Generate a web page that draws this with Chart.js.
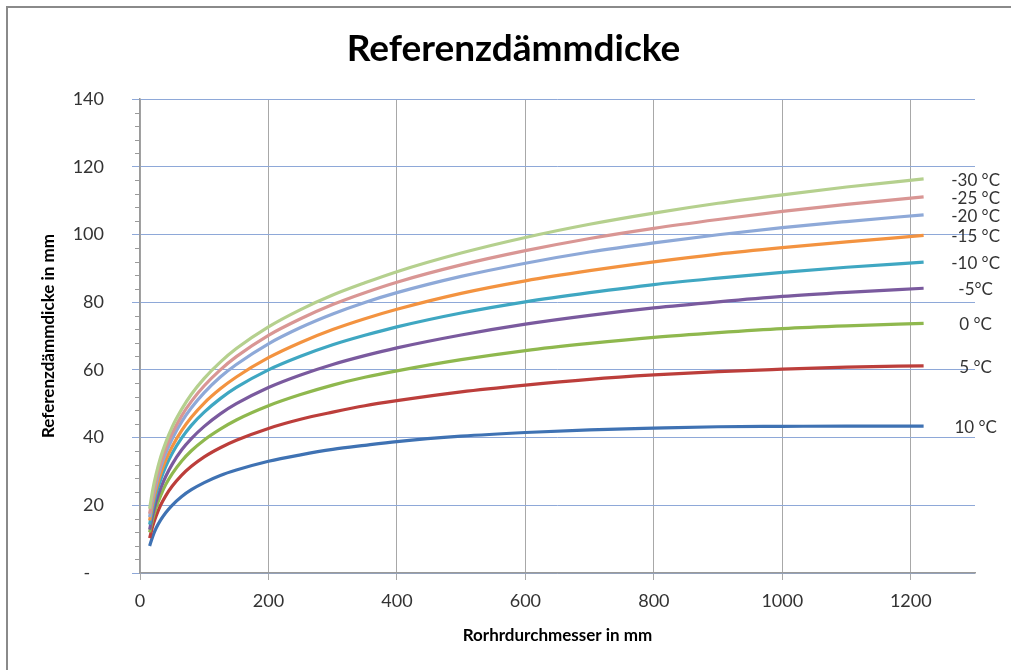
<!DOCTYPE html>
<html>
<head>
<meta charset="utf-8">
<script src="https://cdn.jsdelivr.net/npm/chart.js@4/dist/chart.umd.min.js"></script>
<style>
  html, body { margin: 0; padding: 0; background: #fff; }
  #wrap { position: relative; width: 1011px; height: 670px; overflow: hidden; }
  #frame { position: absolute; left: 6px; top: 6px; width: 1100px; height: 800px;
           border-left: 2px solid #8a8a8a; border-top: 2px solid #8a8a8a; pointer-events: none; }
  canvas { position: absolute; left: 0; top: 0; }
</style>
</head>
<body>
<div id="wrap">
  <canvas id="c" width="1011" height="670"></canvas>
  <div id="frame"></div>
</div>
<script>
// Pipe diameters (mm)
const diameters = [15, 20, 25, 32, 40, 50, 65, 80, 100, 125, 150, 200, 250, 300, 350, 400, 500, 600, 700, 800, 900, 1000, 1100, 1220];

// Reference insulation thickness (mm) per ambient temperature
const t10  = [ 8.0, 10.9, 13.2, 15.6, 17.8, 20.0, 22.6, 24.6, 26.7, 28.8, 30.4, 33.0, 34.9, 36.5, 37.7, 38.8, 40.4, 41.5, 42.3, 42.8, 43.2, 43.3, 43.4, 43.4];
const t5   = [10.3, 14.0, 16.8, 20.0, 22.8, 25.6, 28.9, 31.5, 34.3, 37.0, 39.2, 42.7, 45.4, 47.5, 49.4, 50.9, 53.5, 55.5, 57.2, 58.5, 59.5, 60.2, 60.8, 61.2];
const t0   = [12.0, 16.1, 19.3, 22.8, 26.1, 29.3, 33.1, 36.1, 39.3, 42.5, 45.2, 49.4, 52.7, 55.5, 57.8, 59.7, 63.0, 65.7, 67.8, 69.6, 71.0, 72.2, 73.0, 73.7];
const tm5  = [12.8, 17.4, 21.0, 24.9, 28.5, 32.1, 36.4, 39.7, 43.3, 47.0, 50.0, 54.8, 58.5, 61.6, 64.2, 66.5, 70.3, 73.5, 76.1, 78.3, 80.1, 81.7, 82.9, 84.1];
const tm10 = [14.3, 19.3, 23.2, 27.5, 31.4, 35.3, 39.9, 43.6, 47.5, 51.5, 54.8, 60.0, 64.0, 67.4, 70.2, 72.7, 76.8, 80.1, 82.8, 85.2, 87.1, 88.8, 90.3, 91.8];
const tm15 = [15.5, 20.7, 24.7, 29.2, 33.3, 37.3, 42.1, 46.0, 50.2, 54.4, 57.9, 63.6, 68.1, 71.9, 75.1, 77.9, 82.6, 86.3, 89.3, 91.9, 94.2, 96.1, 97.8, 99.7];
const tm20 = [16.5, 22.0, 26.2, 31.0, 35.3, 39.6, 44.7, 48.8, 53.3, 57.9, 61.6, 67.7, 72.5, 76.5, 79.9, 82.8, 87.6, 91.5, 94.8, 97.5, 99.9, 102.0, 103.8, 105.8];
const tm25 = [17.5, 23.1, 27.5, 32.3, 36.8, 41.2, 46.5, 50.7, 55.3, 60.0, 63.9, 70.2, 75.1, 79.3, 82.8, 85.9, 91.0, 95.2, 98.8, 101.8, 104.4, 106.8, 108.9, 111.1];
const tm30 = [19.0, 24.7, 29.1, 34.1, 38.5, 43.1, 48.4, 52.8, 57.5, 62.3, 66.3, 72.7, 77.8, 82.1, 85.7, 89.0, 94.5, 99.1, 103.0, 106.3, 109.2, 111.7, 114.0, 116.4];

const seriesValues = [tm30, tm25, tm20, tm15, tm10, tm5, t0, t5, t10];
const seriesLabels = ['-30 °C', '-25 °C', '-20 °C', '-15 °C', '-10 °C', '-5°C', '0 °C', '5 °C', '10 °C'];
const seriesColors = ['#B5D08E', '#D99694', '#8EA9D8', '#F39340', '#3FA7C2', '#7A5A9E', '#8FB84E', '#BC3E3B', '#3F72B3'];

const chartTitle = 'Referenzdämmdicke';
const FONT = 'Lato, "Open Sans", sans-serif';

const datasets = seriesValues.map((vals, i) => ({
  label: seriesLabels[i],
  data: diameters.map((d, k) => ({ x: d, y: vals[k] })),
  borderColor: seriesColors[i],
  backgroundColor: seriesColors[i],
  borderWidth: 3.2,
  pointRadius: 0,
  cubicInterpolationMode: 'monotone',
  fill: false
}));

// Temperature label to the right of each curve end
const endLabels = {
  id: 'endLabels',
  afterDatasetsDraw(chart) {
    const ctx = chart.ctx;
    ctx.save();
    ctx.font = '17px ' + FONT;
    ctx.fillStyle = '#333';
    ctx.textAlign = 'center';
    ctx.textBaseline = 'middle';
    chart.data.datasets.forEach((ds, i) => {
      const meta = chart.getDatasetMeta(i);
      const pt = meta.data[meta.data.length - 1];
      ctx.fillText(ds.label, pt.x + 52, pt.y + 1.5);
    });
    ctx.restore();
  }
};

// Chart heading, centred on the page width
const heading = {
  id: 'heading',
  afterDraw(chart) {
    const ctx = chart.ctx;
    ctx.save();
    ctx.font = 'bold 37px ' + FONT;
    ctx.fillStyle = '#000';
    ctx.textAlign = 'center';
    ctx.textBaseline = 'middle';
    ctx.fillText(chartTitle, chart.width / 2 + 8, 49);
    ctx.restore();
  }
};

// Minor tick marks on the value axis
const minorTicks = {
  id: 'minorTicks',
  afterDraw(chart) {
    const y = chart.scales.y, x0 = chart.chartArea.left;
    const ctx = chart.ctx;
    ctx.save();
    ctx.strokeStyle = '#9a9a9a';
    ctx.lineWidth = 1;
    for (let v = y.min; v <= y.max; v += 4) {
      if (v % 20 === 0) continue;
      const py = Math.round(y.getPixelForValue(v)) + 0.5;
      ctx.beginPath();
      ctx.moveTo(x0 - 5, py);
      ctx.lineTo(x0, py);
      ctx.stroke();
    }
    ctx.restore();
  }
};

new Chart(document.getElementById('c'), {
  type: 'line',
  data: { datasets },
  plugins: [endLabels, minorTicks, heading],
  options: {
    responsive: false,
    animation: false,
    layout: { padding: { left: 0, right: 36, top: 99, bottom: 0 } },
    plugins: {
      legend: { display: false },
      tooltip: { enabled: false },
      title: { display: false }
    },
    scales: {
      x: {
        type: 'linear',
        min: 0,
        max: 1300,
        afterBuildTicks(s) { s.ticks = s.ticks.filter(t => t.value % 200 === 0); },
        afterFit(s) { s.height = 97; },
        ticks: { stepSize: 200, color: '#333', font: { family: FONT, size: 18 }, padding: 10, maxRotation: 0,
                 callback: v => String(v) },
        grid: { color: '#a8a8a8', tickColor: '#a8a8a8', tickLength: 7, lineWidth: 1 },
        border: { color: '#9a9a9a', width: 1.5 },
        title: {
          display: true,
          text: 'Rorhrdurchmesser in mm',
          color: '#000',
          font: { family: FONT, size: 17, weight: 'bold' },
          padding: { top: 0, bottom: 24 }
        }
      },
      y: {
        min: 0,
        max: 140,
        afterFit(s) { s.width = 140; },
        ticks: {
          stepSize: 20,
          color: '#333',
          font: { family: FONT, size: 18 },
          padding: 28,
          callback: v => (v === 0 ? '-   ' : String(v))
        },
        grid: { color: '#8EA8D8', tickColor: '#8EA8D8', tickLength: 8, lineWidth: 1 },
        border: { color: '#9a9a9a', width: 1.5 },
        title: {
          display: true,
          text: 'Referenzdämmdicke in mm',
          color: '#000',
          font: { family: FONT, size: 17, weight: 'bold' },
          padding: { top: 38, bottom: 0 }
        }
      }
    }
  }
});
</script>
</body>
</html>
